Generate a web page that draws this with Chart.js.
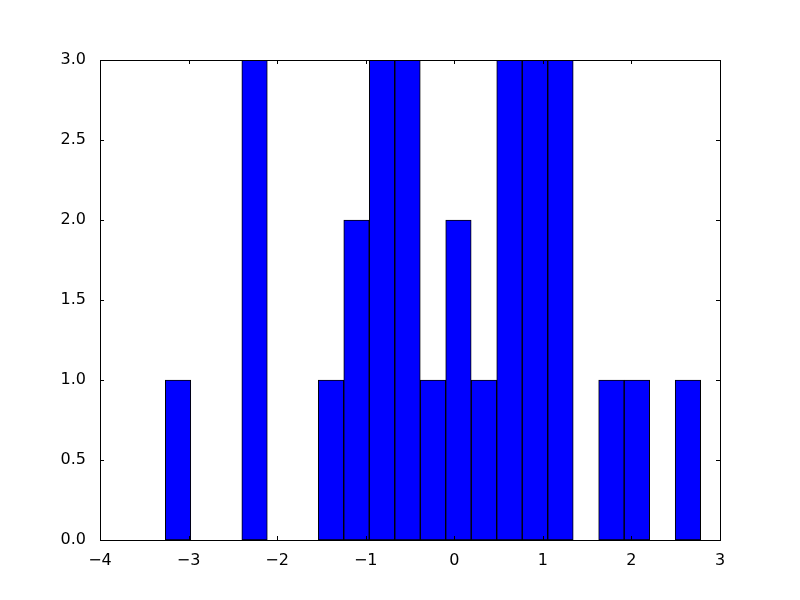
<!DOCTYPE html>
<html>
<head>
<meta charset="utf-8">
<script src="https://cdn.jsdelivr.net/npm/chart.js@4"></script>
<style>
  html, body { margin: 0; padding: 0; background: #fff; }
  canvas { display: block; }
</style>
</head>
<body>
<canvas id="histo" width="800" height="600"></canvas>
<script>
// bin edges (21 bins)
const binEdges = [-3.263, -2.975, -2.687, -2.399, -2.111, -1.824, -1.536, -1.248, -0.960, -0.672, -0.384,
                  -0.097, 0.191, 0.479, 0.767, 1.055, 1.343, 1.630, 1.918, 2.206, 2.494, 2.782];
const binCounts = [1, 0, 0, 3, 0, 0, 1, 2, 3, 3, 1, 2, 1, 3, 3, 3, 0, 1, 1, 0, 1];
const xTicks = [-4, -3, -2, -1, 0, 1, 2, 3];
const yTicks = [0, 0.5, 1, 1.5, 2, 2.5, 3];

// one bar per bin, centred between its edges
const points = binCounts.map((c, i) => ({ x: (binEdges[i] + binEdges[i + 1]) / 2, y: c }));

const minus = s => String(s).replace('-', '\u2212');

// matplotlib-style frame with inward ticks on all four sides
const framePlugin = {
    id: 'frame',
    afterDatasetsDraw(chart) {
        const { ctx, chartArea: a, scales } = chart;
        const len = 4;
        ctx.save();
        ctx.strokeStyle = '#000';
        ctx.lineWidth = 1;
        ctx.beginPath();
        xTicks.forEach(v => {
            const px = Math.round(scales.x.getPixelForValue(v)) + 0.5;
            ctx.moveTo(px, a.bottom); ctx.lineTo(px, a.bottom - len);
            ctx.moveTo(px, a.top); ctx.lineTo(px, a.top + len);
        });
        yTicks.forEach(v => {
            const py = Math.round(scales.y.getPixelForValue(v)) + 0.5;
            ctx.moveTo(a.left, py); ctx.lineTo(a.left + len, py);
            ctx.moveTo(a.right, py); ctx.lineTo(a.right - len, py);
        });
        ctx.stroke();
        ctx.strokeRect(Math.round(a.left) + 0.5, Math.round(a.top) + 0.5,
                       Math.round(a.right - a.left), Math.round(a.bottom - a.top));
        ctx.restore();
    }
};

const tickFont = { family: "'DejaVu Sans'", size: 16 };

new Chart(document.getElementById('histo').getContext('2d'), {
    type: 'bar',
    data: {
        datasets: [{
            data: points,
            backgroundColor: '#0000ff',
            borderColor: '#000',
            borderWidth: 1,
            borderSkipped: false,
            barPercentage: 1,
            categoryPercentage: 1
        }]
    },
    options: {
        responsive: false,
        animation: false,
        layout: { padding: { left: 0, top: 60, right: 80, bottom: 0 } },
        plugins: { legend: { display: false }, tooltip: { enabled: false } },
        scales: {
            x: {
                type: 'linear',
                min: -4,
                max: 3,
                offset: false,
                grid: { display: false, offset: false },
                border: { display: false },
                afterBuildTicks: s => { s.ticks = xTicks.map(v => ({ value: v })); },
                afterFit: s => { s.height = 60; },
                ticks: { color: '#000', font: tickFont, padding: 3, maxRotation: 0,
                         callback: v => minus(v) }
            },
            y: {
                min: 0,
                max: 3,
                grid: { display: false },
                border: { display: false },
                afterBuildTicks: s => { s.ticks = yTicks.map(v => ({ value: v })); },
                afterFit: s => { s.width = 100; },
                ticks: { color: '#000', font: tickFont, padding: 6,
                         callback: v => Number(v).toFixed(1) }
            }
        }
    },
    plugins: [framePlugin]
});
</script>
</body>
</html>
